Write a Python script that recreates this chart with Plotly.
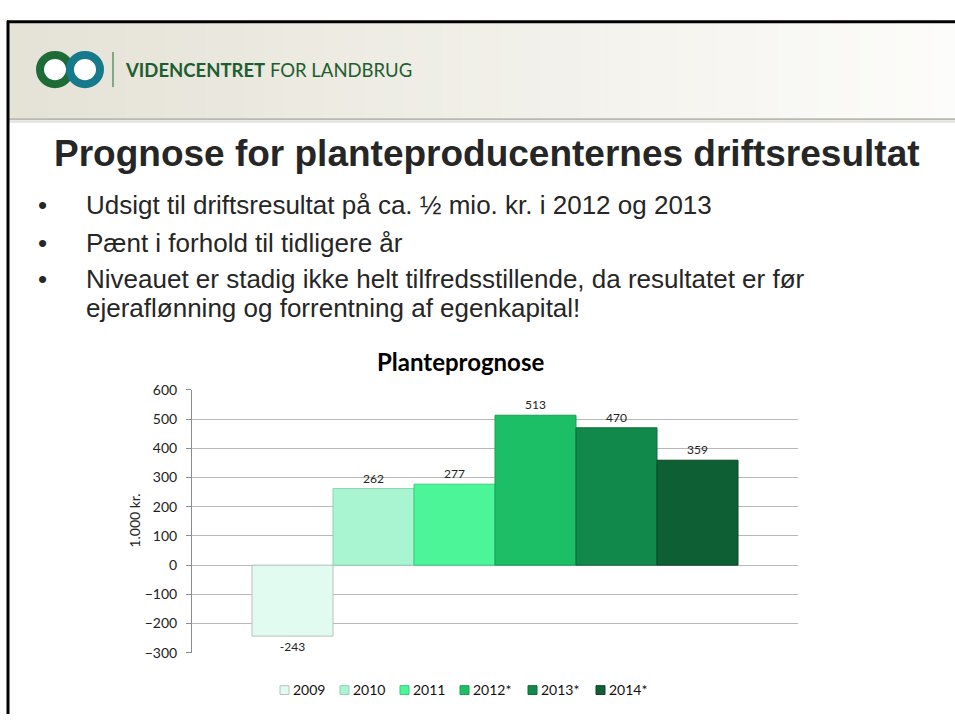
import plotly.graph_objects as go

W, H = 955, 722

# ---------------- data ----------------
years = ["2009", "2010", "2011", "2012*", "2013*", "2014*"]
values = [-243, 262, 277, 513, 470, 359]
category = ["Planteprognose"]
y_ticks = [-300, -200, -100, 0, 100, 200, 300, 400, 500, 600]

chart_title = "Planteprognose"
y_title = "1.000 kr."
slide_title = "Prognose for planteproducenternes driftsresultat"
header_bold = "VIDENCENTRET"
header_rest = "FOR LANDBRUG"
bullet_lines = [
    ("Udsigt til driftsresultat på ca. ½ mio. kr. i 2012 og 2013", True),
    ("Pænt i forhold til tidligere år", True),
    ("Niveauet er stadig ikke helt tilfredsstillende, da resultatet er før", True),
    ("ejeraflønning og forrentning af egenkapital!", False),
]

# ---------------- styles ----------------
bar_colors = ["#e2fbf1", "#a9f5d1", "#4bf598", "#1cbe66", "#11894b", "#0e5f34"]
edge_colors = ["#b5c4bd", "#8dd3b1", "#35d07e", "#16a055", "#0c6c3a", "#0a4626"]
CHART_FONT = "Lato"
SLIDE_FONT = "Liberation Sans"


def px(x):
    return x / W


def py(y):
    return 1 - y / H


fig = go.Figure()

for yr, val, col, edge in zip(years, values, bar_colors, edge_colors):
    fig.add_trace(go.Bar(
        x=category, y=[val], name=yr,
        marker=dict(color=col, line=dict(color=edge, width=1)),
        text=[str(val)], textposition="outside",
        textfont=dict(family=CHART_FONT, size=12, color="#222222"),
        cliponaxis=False, showlegend=False, hoverinfo="skip",
    ))

shapes = []
annotations = []

# header gradient band
N = 48
x0, x1 = 9, 955
c0 = (229, 226, 214)
c1 = (252, 252, 250)
for i in range(N):
    t = i / (N - 1)
    c = tuple(int(round(c0[k] + (c1[k] - c0[k]) * t)) for k in range(3))
    xa = x0 + (x1 - x0) * i / N
    xb = x0 + (x1 - x0) * (i + 1) / N + 0.5
    shapes.append(dict(type="rect", xref="paper", yref="paper",
                       x0=px(xa), x1=px(xb), y0=py(113), y1=py(14),
                       fillcolor="rgb(%d,%d,%d)" % c, line=dict(width=0), layer="below"))
# header shadow
shapes.append(dict(type="line", xref="paper", yref="paper", x0=px(9), x1=px(955),
                   y0=py(113), y1=py(113), line=dict(color="#b9b9b1", width=2)))
shapes.append(dict(type="line", xref="paper", yref="paper", x0=px(9), x1=px(955),
                   y0=py(115.5), y1=py(115.5), line=dict(color="#e2e2de", width=2)))

# slide border
shapes.append(dict(type="line", xref="paper", yref="paper", x0=px(7), x1=px(955),
                   y0=py(13), y1=py(13), line=dict(color="#000000", width=3)))
shapes.append(dict(type="line", xref="paper", yref="paper", x0=px(8), x1=px(8),
                   y0=py(12), y1=py(722), line=dict(color="#000000", width=3)))

# logo
for cx in (55, 85):
    shapes.append(dict(type="circle", xref="paper", yref="paper",
                       x0=px(cx - 15), x1=px(cx + 15), y0=py(62 + 15), y1=py(62 - 15),
                       fillcolor="#ffffff", line=dict(width=0)))
for cx, col in ((55, "#1d6b36"), (85, "#17798c")):
    shapes.append(dict(type="circle", xref="paper", yref="paper",
                       x0=px(cx - 15), x1=px(cx + 15), y0=py(62 + 15), y1=py(62 - 15),
                       fillcolor="rgba(0,0,0,0)", line=dict(color=col, width=8)))
shapes.append(dict(type="line", xref="paper", yref="paper", x0=px(113), x1=px(113),
                   y0=py(44), y1=py(80), line=dict(color="#1d6b36", width=1)))
annotations.append(dict(
    text="<b>%s</b> %s" % (header_bold, header_rest), x=px(123), y=py(62),
    xref="paper", yref="paper", xanchor="left", yanchor="middle", showarrow=False,
    font=dict(family=CHART_FONT, size=18.5, color="#1d5e30")))

# slide title
annotations.append(dict(
    text="<b>%s</b>" % slide_title, x=px(487), y=py(148),
    xref="paper", yref="paper", xanchor="center", yanchor="middle", showarrow=False,
    font=dict(family=SLIDE_FONT, size=37, color="#262626")))

# bullets
bullet_y = [201, 240, 276, 306]
for (line, has_dot), yy in zip(bullet_lines, bullet_y):
    if has_dot:
        annotations.append(dict(
            text="•", x=px(36), y=py(yy), xref="paper", yref="paper",
            xanchor="left", yanchor="middle", showarrow=False,
            font=dict(family=SLIDE_FONT, size=26, color="#262626")))
    annotations.append(dict(
        text=line, x=px(84), y=py(yy), xref="paper", yref="paper",
        xanchor="left", yanchor="middle", showarrow=False,
        font=dict(family=SLIDE_FONT, size=26, color="#262626")))

# chart title + y title
annotations.append(dict(
    text="<b>%s</b>" % chart_title, x=px(460), y=py(361), xref="paper", yref="paper",
    xanchor="center", yanchor="middle", showarrow=False,
    font=dict(family=CHART_FONT, size=24, color="#000000")))
annotations.append(dict(
    text=y_title, x=px(135), y=py(524), xref="paper", yref="paper",
    xanchor="center", yanchor="middle", showarrow=False, textangle=-90,
    font=dict(family=CHART_FONT, size=14, color="#222222")))

# legend (manual, built from series arrays)
lx = 280
for yr, col, edge in zip(years, bar_colors, edge_colors):
    shapes.append(dict(type="rect", xref="paper", yref="paper",
                       x0=px(lx), x1=px(lx + 9), y0=py(702), y1=py(693),
                       fillcolor=col, line=dict(color=edge, width=1)))
    annotations.append(dict(
        text=yr, x=px(lx + 11), y=py(697), xref="paper", yref="paper",
        xanchor="left", yanchor="middle", showarrow=False,
        font=dict(family=CHART_FONT, size=14, color="#111111")))
    lx += 28 + 8 * len(yr)

fig.update_layout(
    width=W, height=H,
    margin=dict(l=0, r=0, t=0, b=0),
    paper_bgcolor="#ffffff", plot_bgcolor="#ffffff",
    barmode="group", bargap=0.198, bargroupgap=0,
    showlegend=False,
    xaxis=dict(domain=[px(192), px(798)], showticklabels=False, showgrid=False,
               zeroline=False, showline=False, ticks=""),
    yaxis=dict(domain=[py(659.3), py(390)], range=[-300, 600], tickvals=y_ticks,
               showgrid=True, gridcolor="#b8b8b8", gridwidth=1, zeroline=False,
               showline=True, linecolor="#8c8c8c", linewidth=1,
               ticks="outside", ticklen=5, tickcolor="#8c8c8c",
               ticklabelstandoff=6,
               tickfont=dict(family=CHART_FONT, size=14, color="#222222")),
    shapes=shapes, annotations=annotations,
)

fig.write_html("out.html", config={"displayModeBar": False},
               post_script="document.body.style.margin='0';")
